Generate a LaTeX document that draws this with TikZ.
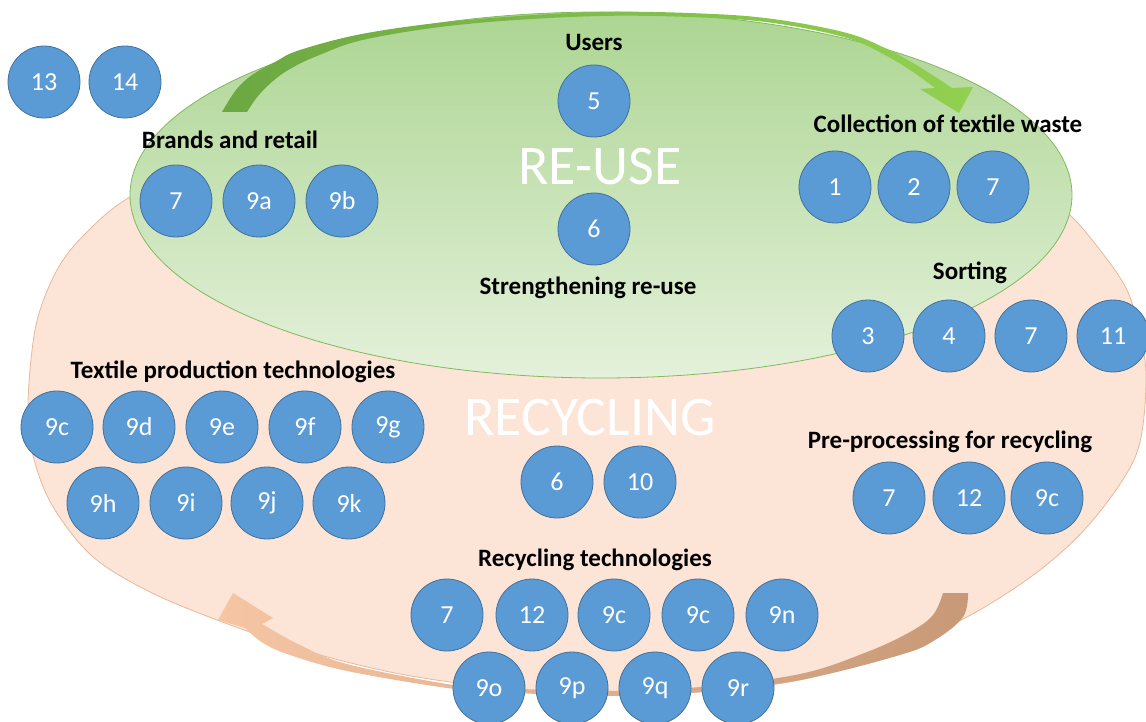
\documentclass[tikz,border=0pt]{standalone}
\usepackage{fontspec}
\setmainfont{Carlito}
\definecolor{orfill}{RGB}{252,228,214}
\definecolor{oredge}{RGB}{232,184,152}
\definecolor{grtop}{RGB}{172,213,146}
\definecolor{grbot}{RGB}{228,241,219}
\definecolor{gredge}{RGB}{130,185,95}
\definecolor{numfill}{RGB}{91,155,213}
\definecolor{numedge}{RGB}{65,113,156}
\definecolor{garrowA}{RGB}{108,168,66}
\definecolor{garrowB}{RGB}{146,208,80}
\definecolor{oarrowA}{RGB}{246,198,164}
\definecolor{oarrowB}{RGB}{200,153,118}
\begin{document}
\begin{tikzpicture}[x=1pt,y=-1pt,
  num/.style={circle,draw=numedge,line width=0.8pt,fill=numfill,text=white,
    minimum size=72pt,inner sep=0pt,font=\fontsize{26}{26}\selectfont},
  lab/.style={font=\fontsize{25}{25}\selectfont\bfseries,text=black,inner sep=0pt},
  bigword/.style={font=\fontsize{56}{56}\selectfont,text=white,inner sep=0pt}]
\useasboundingbox (0,0) rectangle (1146,722);
% orange (recycling) shape
\filldraw[fill=orfill,draw=oredge,line width=0.8pt]
  plot[smooth cycle,tension=0.55] coordinates {(28,403) (36,325) (57,270) (85,234) (130,197)
  (220,155) (400,125) (588,118) (780,124) (950,150) (1040,190) (1072,217) (1100,250)
  (1127,290) (1141,337) (1146,385) (1136,455) (1093,520) (1040,570) (967,617) (880,655)
  (800,680) (700,692) (600,694) (500,688) (400,674) (310,652) (225,623) (150,592)
  (92,556) (52,505) (33,455)};
% green (re-use) ellipse
\shadedraw[top color=grtop,bottom color=grbot,draw=gredge,line width=0.8pt]
  (601,195) ellipse [x radius=471,y radius=183];
% green curved arrow
\shade[left color=garrowA,right color=garrowB]
  plot[smooth,tension=0.6] coordinates {(222,112) (236,90) (252,75) (275,62) (300,50)
  (367,33) (467,20) (600,12) (713,14) (780,20) (847,33) (885,48) (913,63) (940,80) (952,88)}
  -- (973,87) -- (959,113) -- (920,89) --
  plot[smooth,tension=0.6] coordinates {(935,88) (913,72) (885,55) (847,38) (780,24)
  (713,18) (600,16) (467,24) (367,39) (317,56) (290,69) (273,81) (258,96) (247,112)} -- cycle;
% orange curved arrow
\shade[left color=oarrowA,right color=oarrowB]
  plot[smooth,tension=0.6] coordinates {(968,593) (963,617) (935,640) (900,655) (800,680)
  (700,692) (600,696) (500,692) (447,688) (347,671) (290,655) (263,643) (245,628)}
  -- (218,620) -- (233,593) -- (273,618) --
  plot[smooth,tension=0.6] coordinates {(262,624) (300,645) (347,664) (447,684) (500,688)
  (600,691) (700,687) (800,674) (867,652) (910,632) (933,615) (943,593)} -- cycle;
% big words
\node[bigword] (reuse) at (600,167) {RE-USE};
\node[bigword] (recyc) at (590,418) {RECYCLING};
% labels
\node[lab] (lusers) at (594,42) {Users};
\node[lab] (lbrand) at (230,140) {Brands and retail};
\node[lab] (lcoll) at (948,124) {Collection of textile waste};
\node[lab] (lsort) at (970,273) {Sorting};
\node[lab] (lstr) at (588,288) {Strengthening re-use};
\node[lab] (ltex) at (233,372) {Textile production technologies};
\node[lab] (lpre) at (950,442) {Pre-processing for recycling};
\node[lab] (lrec) at (595,560) {Recycling technologies};
% circles
\node[num] (c13) at (44,82) {13};
\node[num] (c14) at (125,82) {14};
\node[num] (u5) at (594,101) {5};
\node[num] (u6) at (594,229) {6};
\node[num] (b7) at (176,201) {7};
\node[num] (b9a) at (259,201) {9a};
\node[num] (b9b) at (342,201) {9b};
\node[num] (k1) at (835,187) {1};
\node[num] (k2) at (914,187) {2};
\node[num] (k7) at (993,187) {7};
\node[num] (s3) at (868,336) {3};
\node[num] (s4) at (949,336) {4};
\node[num] (s7) at (1031,336) {7};
\node[num] (s11) at (1113,336) {11};
\node[num] (t9c) at (57,427) {9c};
\node[num] (t9d) at (139,427) {9d};
\node[num] (t9e) at (222,427) {9e};
\node[num] (t9f) at (305,427) {9f};
\node[num] (t9g) at (388,427) {9g};
\node[num] (t9h) at (103,503) {9h};
\node[num] (t9i) at (186,503) {9i};
\node[num] (t9j) at (267,503) {9j};
\node[num] (t9k) at (349,503) {9k};
\node[num] (m6) at (557,482) {6};
\node[num] (m10) at (640,482) {10};
\node[num] (p7) at (889,498) {7};
\node[num] (p12) at (969,498) {12};
\node[num] (p9c) at (1047,498) {9c};
\node[num] (r7) at (447,615) {7};
\node[num] (r12) at (532,615) {12};
\node[num] (r9c) at (614,615) {9c};
\node[num] (r9cb) at (698,615) {9c};
\node[num] (r9n) at (782,615) {9n};
\node[num] (r9o) at (489,688) {9o};
\node[num] (r9p) at (572,688) {9p};
\node[num] (r9q) at (655,688) {9q};
\node[num] (r9r) at (738,688) {9r};
\end{tikzpicture}
\end{document}
